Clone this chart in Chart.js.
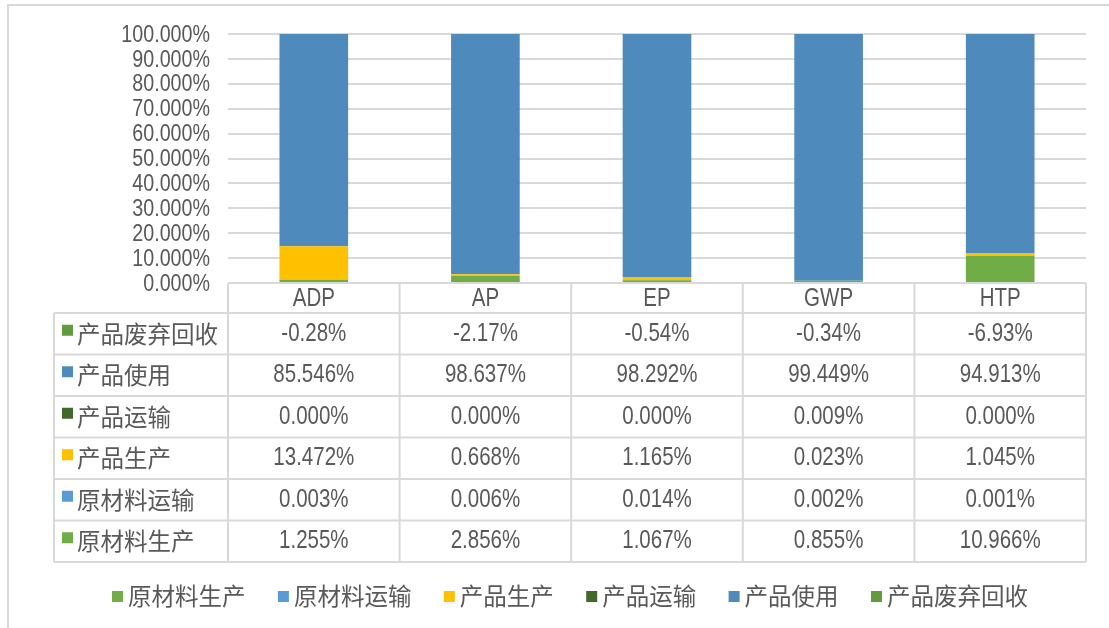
<!DOCTYPE html>
<html>
<head>
<meta charset="utf-8">
<script src="https://cdn.jsdelivr.net/npm/chart.js@4/dist/chart.umd.min.js"></script>
<style>
  html, body { margin: 0; padding: 0; background: #fff; }
  #wrap { width: 1109px; height: 628px; position: relative; }
</style>
</head>
<body>
<div id="wrap"><canvas id="c" width="1109" height="628"></canvas></div>
<script>
// — DATA —
const categories = ['ADP', 'AP', 'EP', 'GWP', 'HTP'];
const seriesNames = ['原材料生产', '原材料运输', '产品生产', '产品运输', '产品使用', '产品废弃回收'];
const rawMaterialProd  = [1.255, 2.856, 1.067, 0.855, 10.966];
const rawMaterialTrans = [0.003, 0.006, 0.014, 0.002, 0.001];
const productProd      = [13.472, 0.668, 1.165, 0.023, 1.045];
const productTrans     = [0.000, 0.000, 0.000, 0.009, 0.000];
const productUse       = [85.546, 98.637, 98.292, 99.449, 94.913];
const productRecycle   = [-0.28, -2.17, -0.54, -0.34, -6.93];
const seriesDecimals   = [3, 3, 3, 3, 3, 2];
const yTicks = [0, 10, 20, 30, 40, 50, 60, 70, 80, 90, 100];

const seriesValues = [rawMaterialProd, rawMaterialTrans, productProd, productTrans, productUse, productRecycle];
const seriesColors = ['#70AD47', '#5B9BD5', '#FFC000', '#43682B', '#4F8ABD', '#629B3E'];

const NUM_FONT = '"Liberation Sans", sans-serif';
const CJK_FONT = '"Noto Sans CJK SC", sans-serif';
const TEXT_COLOR = '#595959';
const LINE_COLOR = '#d9d9d9';
const NARROW = 0.82;   // squeeze latin digits like the original font

// draw text squeezed horizontally, anchored at (x, y)
function narrowText(ctx, text, x, y) {
  ctx.save();
  ctx.translate(x, y);
  ctx.scale(NARROW, 1);
  ctx.fillText(text, 0, 0);
  ctx.restore();
}

/**
 * Draws the y tick labels, the Excel-style data table under the plot,
 * the legend and the frame lines on the left and top.
 */
const tablePlugin = {
  id: 'dataTable',
  afterDraw(chart) {
    const ctx = chart.ctx;
    const xs = chart.scales.x;
    const ys = chart.scales.y;
    const area = chart.chartArea;
    const colW = (area.right - area.left) / categories.length;
    const tableLeft = 54;
    const headerTop = area.bottom;
    const headerH = 30;
    const rowH = 41.5;
    const rowsTop = headerTop + headerH;
    const nRows = seriesNames.length;
    const tableBottom = rowsTop + rowH * nRows;

    ctx.save();
    ctx.strokeStyle = LINE_COLOR;
    ctx.lineWidth = 2;

    // frame (left + top)
    ctx.beginPath();
    ctx.moveTo(8, 628); ctx.lineTo(8, 5); ctx.lineTo(1109, 5);
    ctx.stroke();

    // horizontal lines
    ctx.beginPath();
    ctx.moveTo(area.left, headerTop); ctx.lineTo(area.right, headerTop);
    for (let r = 0; r <= nRows; r++) {
      const y = rowsTop + r * rowH;
      ctx.moveTo(tableLeft, y); ctx.lineTo(area.right, y);
    }
    // vertical lines
    ctx.moveTo(tableLeft, rowsTop); ctx.lineTo(tableLeft, tableBottom);
    for (let i = 0; i <= categories.length; i++) {
      const x = area.left + i * colW;
      ctx.moveTo(x, headerTop); ctx.lineTo(x, tableBottom);
    }
    ctx.stroke();

    ctx.fillStyle = TEXT_COLOR;
    ctx.textBaseline = 'middle';

    // y tick labels
    ctx.textAlign = 'right';
    ctx.font = '24px ' + NUM_FONT;
    yTicks.forEach(v => {
      narrowText(ctx, v.toFixed(3) + '%', 210, ys.getPixelForValue(v) + 1);
    });

    // header labels
    ctx.textAlign = 'center';
    ctx.font = '25px ' + NUM_FONT;
    categories.forEach((c, i) => {
      narrowText(ctx, c, xs.getPixelForValue(i), headerTop + headerH / 2 + 1);
    });

    // rows: last series first
    for (let r = 0; r < nRows; r++) {
      const s = nRows - 1 - r;
      const yMid = rowsTop + r * rowH + rowH / 2;
      ctx.fillStyle = seriesColors[s];
      ctx.fillRect(62, yMid - 9, 11, 11);
      ctx.fillStyle = TEXT_COLOR;
      ctx.textAlign = 'left';
      ctx.font = '23.5px ' + CJK_FONT;
      ctx.fillText(seriesNames[s], 77, yMid);
      ctx.textAlign = 'center';
      ctx.font = '25px ' + NUM_FONT;
      seriesValues[s].forEach((v, i) => {
        narrowText(ctx, v.toFixed(seriesDecimals[s]) + '%', xs.getPixelForValue(i), yMid);
      });
    }

    // legend
    ctx.font = '23.5px ' + CJK_FONT;
    const box = 11, boxGap = 5, itemGap = 32.4;
    const widths = seriesNames.map(n => box + boxGap + ctx.measureText(n).width);
    const total = widths.reduce((a, b) => a + b, 0) + itemGap * (widths.length - 1);
    let x = (tableLeft + area.right) / 2 - total / 2;
    const ly = 596;
    seriesNames.forEach((n, i) => {
      ctx.fillStyle = seriesColors[i];
      ctx.fillRect(x, ly - 5, box, box);
      ctx.fillStyle = TEXT_COLOR;
      ctx.textAlign = 'left';
      ctx.fillText(n, x + box + boxGap, ly);
      x += widths[i] + itemGap;
    });
    ctx.restore();
  }
};

new Chart(document.getElementById('c'), {
  type: 'bar',
  data: {
    labels: categories,
    datasets: seriesNames.map((name, i) => ({
      label: name,
      data: seriesValues[i],
      backgroundColor: seriesColors[i],
      borderWidth: 0,
      categoryPercentage: 1,
      barPercentage: 0.4
    }))
  },
  options: {
    responsive: false,
    animation: false,
    layout: { padding: { top: 34, bottom: 345, right: 23, left: 0 } },
    plugins: {
      legend: { display: false },
      tooltip: { enabled: false }
    },
    scales: {
      x: { stacked: true, display: false },
      y: {
        stacked: true,
        min: 0,
        max: 100,
        afterBuildTicks: s => { s.ticks = yTicks.map(v => ({ value: v })); },
        afterFit: s => { s.width = 228; },
        border: { display: false },
        grid: { color: LINE_COLOR, lineWidth: 2, drawTicks: false },
        ticks: { display: false }
      }
    }
  },
  plugins: [tablePlugin]
});
</script>
</body>
</html>
